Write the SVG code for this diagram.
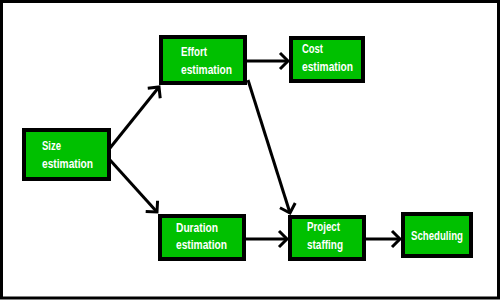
<svg xmlns="http://www.w3.org/2000/svg" width="500" height="300" viewBox="0 0 500 300">
<style>
.box{fill:#00c000;stroke:#000;stroke-width:4}
.lbl{font-family:"Liberation Sans",Arial,sans-serif;font-weight:bold;font-size:12px;fill:#fff}
.conn{fill:none;stroke:#000;stroke-width:3;marker-end:url(#ah)}
</style>
<defs>
<marker id="ah" markerUnits="userSpaceOnUse" markerWidth="24" markerHeight="24" viewBox="-12 -12 24 24" refX="0" refY="0" orient="auto" overflow="visible">
<path d="M-8,-8 L0,0 L-8,8" fill="none" stroke="#000" stroke-width="3"/>
</marker>
</defs>
<rect x="0" y="0" width="500" height="300" fill="#fff"/>
<rect x="1.5" y="1.5" width="497" height="296.5" fill="none" stroke="#000" stroke-width="3"/>
<g id="connectors">
<line class="conn" x1="110" y1="148" x2="159" y2="87"/>
<line class="conn" x1="110" y1="160" x2="157" y2="212"/>
<line class="conn" x1="247" y1="61" x2="288" y2="61"/>
<line class="conn" x1="248" y1="80" x2="290" y2="213"/>
<line class="conn" x1="246" y1="239" x2="287" y2="239"/>
<line class="conn" x1="366" y1="239" x2="400" y2="239"/>
</g>
<g id="effort">
<rect class="box" x="161" y="37" width="84" height="46"/>
<text class="lbl" x="181" y="56" textLength="26" lengthAdjust="spacingAndGlyphs">Effort</text>
<text class="lbl" x="181" y="74" textLength="51" lengthAdjust="spacingAndGlyphs">estimation</text>
</g>
<g id="cost">
<rect class="box" x="291" y="38" width="72" height="43"/>
<text class="lbl" x="302" y="53" textLength="21" lengthAdjust="spacingAndGlyphs">Cost</text>
<text class="lbl" x="302" y="71" textLength="51" lengthAdjust="spacingAndGlyphs">estimation</text>
</g>
<g id="size">
<rect class="box" x="24" y="130" width="85" height="49"/>
<text class="lbl" x="42" y="150" textLength="19" lengthAdjust="spacingAndGlyphs">Size</text>
<text class="lbl" x="42" y="168" textLength="51" lengthAdjust="spacingAndGlyphs">estimation</text>
</g>
<g id="duration">
<rect class="box" x="160" y="216" width="84" height="43"/>
<text class="lbl" x="176" y="232" textLength="42" lengthAdjust="spacingAndGlyphs">Duration</text>
<text class="lbl" x="176" y="249" textLength="51" lengthAdjust="spacingAndGlyphs">estimation</text>
</g>
<g id="staffing">
<rect class="box" x="290" y="217" width="74" height="42"/>
<text class="lbl" x="307" y="231" textLength="33" lengthAdjust="spacingAndGlyphs">Project</text>
<text class="lbl" x="307" y="249" textLength="36" lengthAdjust="spacingAndGlyphs">staffing</text>
</g>
<g id="scheduling">
<rect class="box" x="403" y="214" width="68" height="42"/>
<text class="lbl" x="411" y="240" textLength="52" lengthAdjust="spacingAndGlyphs">Scheduling</text>
</g>
</svg>
